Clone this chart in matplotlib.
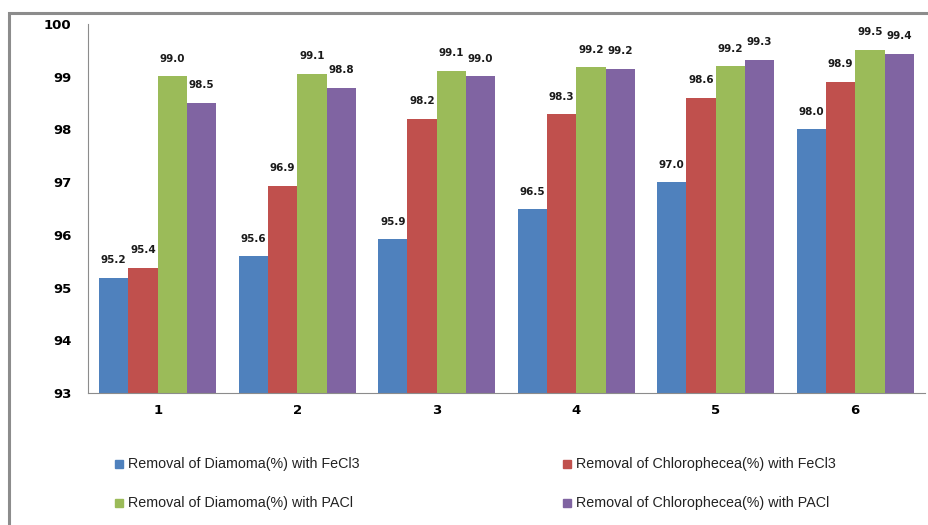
import numpy as np
import matplotlib
matplotlib.use("Agg")
import matplotlib.pyplot as plt
from matplotlib.patches import Rectangle

runs = ["1", "2", "3", "4", "5", "6"]

diamoma_fecl3 = [95.19, 95.59, 95.92, 96.49, 97.00, 98.00]
chloro_fecl3 = [95.38, 96.93, 98.20, 98.29, 98.60, 98.90]
diamoma_pacl = [99.01, 99.06, 99.11, 99.18, 99.20, 99.51]
chloro_pacl = [98.51, 98.79, 99.01, 99.15, 99.32, 99.44]

series_names = [
    "Removal of Diamoma(%) with FeCl3",
    "Removal of Chlorophecea(%) with FeCl3",
    "Removal of Diamoma(%) with PACl",
    "Removal of Chlorophecea(%) with PACl",
]
series = [diamoma_fecl3, chloro_fecl3, diamoma_pacl, chloro_pacl]
colors = ["#4F81BD", "#C0504D", "#9BBB59", "#8064A2"]

fig = plt.figure(figsize=(9.29, 5.25), dpi=100)

# chart frame
fig.patches.append(Rectangle((9 / 929, -0.05), 1.1, 1.05 - 13 / 525,
                             transform=fig.transFigure, fill=False,
                             edgecolor="#8c8c8c", linewidth=2.2))

ax = fig.add_axes([88 / 929, (525 - 393) / 525, (925 - 88) / 929, (393 - 24) / 525])

x = np.arange(1, len(runs) + 1)
width = 0.21
offsets = [-1.5, -0.5, 0.5, 1.5]

for vals, c, off in zip(series, colors, offsets):
    bars = ax.bar(x + off * width, np.array(vals) - 93, width, bottom=93, color=c)
    for b, v in zip(bars, vals):
        ax.annotate(f"{v:.1f}", (b.get_x() + b.get_width() / 2, v),
                    xytext=(0, 9), textcoords="offset points",
                    ha="center", va="bottom", fontsize=7.5,
                    fontweight="bold", color="#1a1a1a")

ax.set_ylim(93, 100)
ax.set_xlim(0.5, 6.5)
ax.set_yticks(range(93, 101))
ax.set_xticks(x)
ax.set_xticklabels(runs)
ax.tick_params(axis="both", length=0, labelsize=9.5)
ax.tick_params(axis="y", pad=12)
ax.tick_params(axis="x", pad=8)
for lbl in ax.get_xticklabels() + ax.get_yticklabels():
    lbl.set_fontweight("bold")

for s in ["top", "right"]:
    ax.spines[s].set_visible(False)
ax.spines["left"].set_color("#8c8c8c")
ax.spines["bottom"].set_color("#8c8c8c")

# legend laid out in two rows
legend_pos = [(115, 464), (563, 464), (115, 503), (563, 503)]
for (px, py), name, c in zip(legend_pos, series_names, colors):
    fig.patches.append(Rectangle((px / 929, (525 - py - 4) / 525), 8 / 929, 8 / 525,
                                 transform=fig.transFigure, color=c))
    fig.text((px + 13) / 929, (525 - py) / 525, name, fontsize=10.3,
             family=["Liberation Sans", "DejaVu Sans"],
             va="center", ha="left", color="#222222")

fig.savefig("out.png", dpi=100)
